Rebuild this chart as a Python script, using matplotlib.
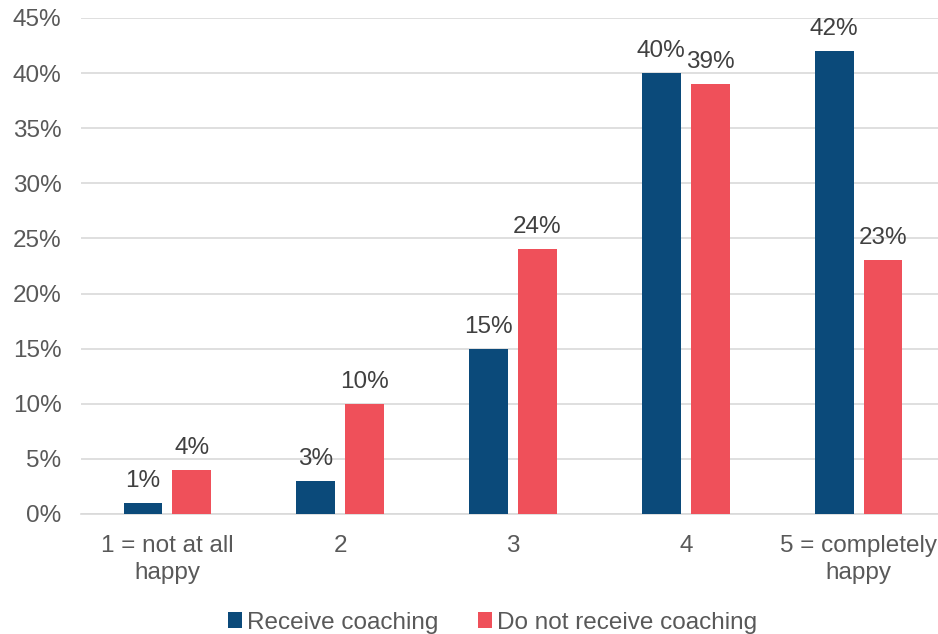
import matplotlib.pyplot as plt
import numpy as np

plt.rcParams['font.family'] = ['Liberation Sans', 'DejaVu Sans']

categories = ['1 = not at all\nhappy', '2', '3', '4', '5 = completely\nhappy']
receive = [1, 3, 15, 40, 42]
not_receive = [4, 10, 24, 39, 23]
series_names = ['Receive coaching', 'Do not receive coaching']

blue = '#0B4A7A'
red = '#EF505A'
txt = '#595959'
fs = 17.5

fig = plt.figure(figsize=(9.38, 6.34), dpi=100)
ax = fig.add_axes([81 / 938, 1 - 514 / 634, 864 / 938, (514 - 18) / 634])

x = np.arange(len(categories))
w = 0.225
gap = 0.058
b1 = ax.bar(x - (w + gap) / 2, receive, w, color=blue, label=series_names[0], zorder=3)
b2 = ax.bar(x + (w + gap) / 2, not_receive, w, color=red, label=series_names[1], zorder=3)

for bars, vals in ((b1, receive), (b2, not_receive)):
    for b, v in zip(bars, vals):
        ax.annotate(f'{v}%', (b.get_x() + b.get_width() / 2, v), xytext=(0, 8),
                    textcoords='offset points', ha='center', va='bottom',
                    fontsize=fs, color='#404040')

ax.set_ylim(0, 45)
ax.set_xlim(-0.5, 4.5)
ax.set_yticks(range(0, 46, 5))
ax.set_yticklabels([f'{t}%' for t in range(0, 46, 5)])
ax.set_xticks(x)
ax.set_xticklabels(categories, linespacing=1.3)
ax.tick_params(axis='both', length=0, labelsize=fs, colors=txt)
ax.tick_params(axis='y', pad=14)
ax.tick_params(axis='x', pad=15)
ax.grid(axis='y', color='#D9D9D9', linewidth=1.2, zorder=0)
for s in ['top', 'right', 'left']:
    ax.spines[s].set_visible(False)
ax.spines['bottom'].set_color('#D9D9D9')
ax.spines['bottom'].set_linewidth(1.2)

fig.legend(loc='lower center', bbox_to_anchor=(0.525, -0.034), ncol=2, frameon=False,
           fontsize=fs, handlelength=0.6, handleheight=0.6, handletextpad=0.2,
           columnspacing=1.6, labelcolor=txt)

fig.savefig('out.png', dpi=100)
